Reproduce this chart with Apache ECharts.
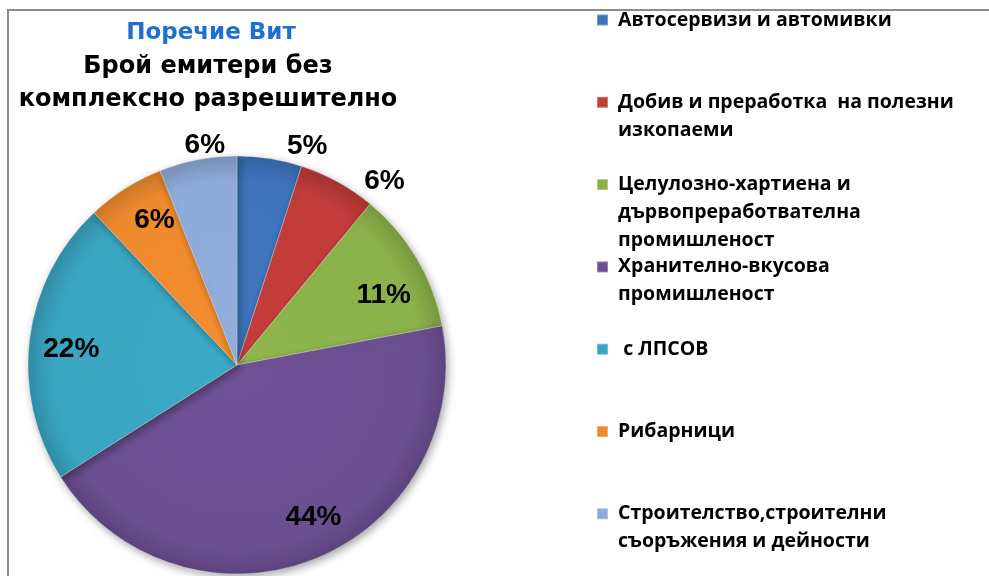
<!DOCTYPE html>
<html>
<head>
<meta charset="utf-8">
<script src="https://cdn.jsdelivr.net/npm/echarts@6/dist/echarts.min.js"></script>
<style>
  html, body { margin: 0; padding: 0; background: #fff; }
  #frame { position: absolute; left: 7px; top: 9px; width: 990px; height: 580px;
           border-left: 2px solid #8c8c8c; border-top: 2px solid #8c8c8c; }
  #chart { position: absolute; left: 0; top: 0; width: 989px; height: 576px; }
</style>
</head>
<body>
<div id="frame"></div>
<div id="chart"></div>
<script>
// данни, отчетени от графиката (в проценти)
const categories = [
  'Автосервизи и автомивки',
  'Добив и преработка  на полезни\nизкопаеми',
  'Целулозно-хартиена и\nдървопреработвателна\nпромишленост',
  'Хранително-вкусова\nпромишленост',
  ' с ЛПСОВ',
  'Рибарници',
  'Строителство,строителни\nсъоръжения и дейности'
];
const values = [5, 6, 11, 44, 22, 6, 6];
const colors = ['#3d74bb', '#c13c3a', '#8bb24a', '#6c4f91', '#3aa5c1', '#ee8a2e', '#8eaad8'];
// кои етикети Excel е сложил извън кръга
const outerLabel = [true, true, false, false, false, false, true];

const center = [237, 365];
const R = 209;

// по-тъмен ръб, за да напомня на релефа от Excel
function shade(hex, k) {
  const n = parseInt(hex.slice(1), 16);
  const c = [n >> 16, (n >> 8) & 255, n & 255].map(v => Math.round(v * k));
  return 'rgb(' + c.join(',') + ')';
}
function sliceFill(hex) {
  return new echarts.graphic.RadialGradient(center[0], center[1], R, [
    { offset: 0, color: shade(hex, 1.03) },
    { offset: 0.88, color: hex },
    { offset: 1, color: shade(hex, 0.86) }
  ], true);
}

const pieData = categories.map((name, i) => ({
  name, value: values[i], itemStyle: { color: sliceFill(colors[i]) }
}));

const labelFont = { fontFamily: 'Liberation Sans, Arial', fontWeight: 'bold', fontSize: 28, color: '#000' };

// прозрачни копия на кръга, само за позициониране на етикетите
function labelSeries(radius, showFn, offsets) {
  return {
    type: 'pie', silent: true, z: 5,
    center, radius: [0, radius], startAngle: 90, clockwise: true,
    itemStyle: { color: 'transparent', borderWidth: 0 },
    labelLine: { show: false },
    emphasis: { disabled: true },
    data: categories.map((name, i) => ({
      name, value: values[i],
      label: { show: showFn(i), position: 'inside', offset: offsets[i] || [0, 0],
               formatter: '{d}%', ...labelFont }
    }))
  };
}

// една легенда на ред: Excel ги разполага през равни стъпки
const LH = 28;
const legends = categories.map((name, i) => {
  const lines = name.split('\n').length;
  const iconY = 20 + i * 82.3;
  return {
    data: [{ name, itemStyle: { color: colors[i] } }],
    orient: 'vertical', left: 596, top: iconY - (2 * lines - 1) * LH / 2, padding: 0,
    icon: 'rect', itemWidth: 11, itemHeight: 11, selectedMode: false,
    // празните редове отгоре държат първия ред на нивото на квадратчето
    formatter: n => '\n'.repeat(lines - 1) + ' ' + n.split('\n').join('\n '),
    textStyle: { fontFamily: 'Open Sans', fontWeight: 'bold', fontSize: 19.5, color: '#000', lineHeight: LH }
  };
});

const chart = echarts.init(document.getElementById('chart'), null, { renderer: 'canvas' });
chart.setOption({
  animation: false,
  title: [
    { text: 'Поречие Вит', left: 206, top: 17, textAlign: 'center',
      textStyle: { fontFamily: 'DejaVu Sans', fontWeight: 'bold', fontSize: 23, color: '#1f6fd0' } },
    { text: 'Брой емитери без\nкомплексно разрешително', left: 203, top: 45, textAlign: 'center',
      textStyle: { fontFamily: 'DejaVu Sans', fontWeight: 'bold', fontSize: 24, lineHeight: 33, color: '#000' } }
  ],
  legend: legends,
  series: [
    {
      type: 'pie', center, radius: [0, R], startAngle: 90, clockwise: true,
      label: { show: false }, labelLine: { show: false },
      itemStyle: { borderColor: 'rgba(255,255,255,0.3)', borderWidth: 1,
                   shadowBlur: 8, shadowColor: 'rgba(0,0,0,0.35)', shadowOffsetX: 2, shadowOffsetY: 3 },
      emphasis: { disabled: true },
      data: pieData
    },
    labelSeries(328, i => !outerLabel[i], [, , [3, 15], [15, -3], [0, 5], [7, -4]]),
    labelSeries(444, i => outerLabel[i], [[35, 4], [39, 13], , , , , [10, 1]])
  ]
});
</script>
</body>
</html>
